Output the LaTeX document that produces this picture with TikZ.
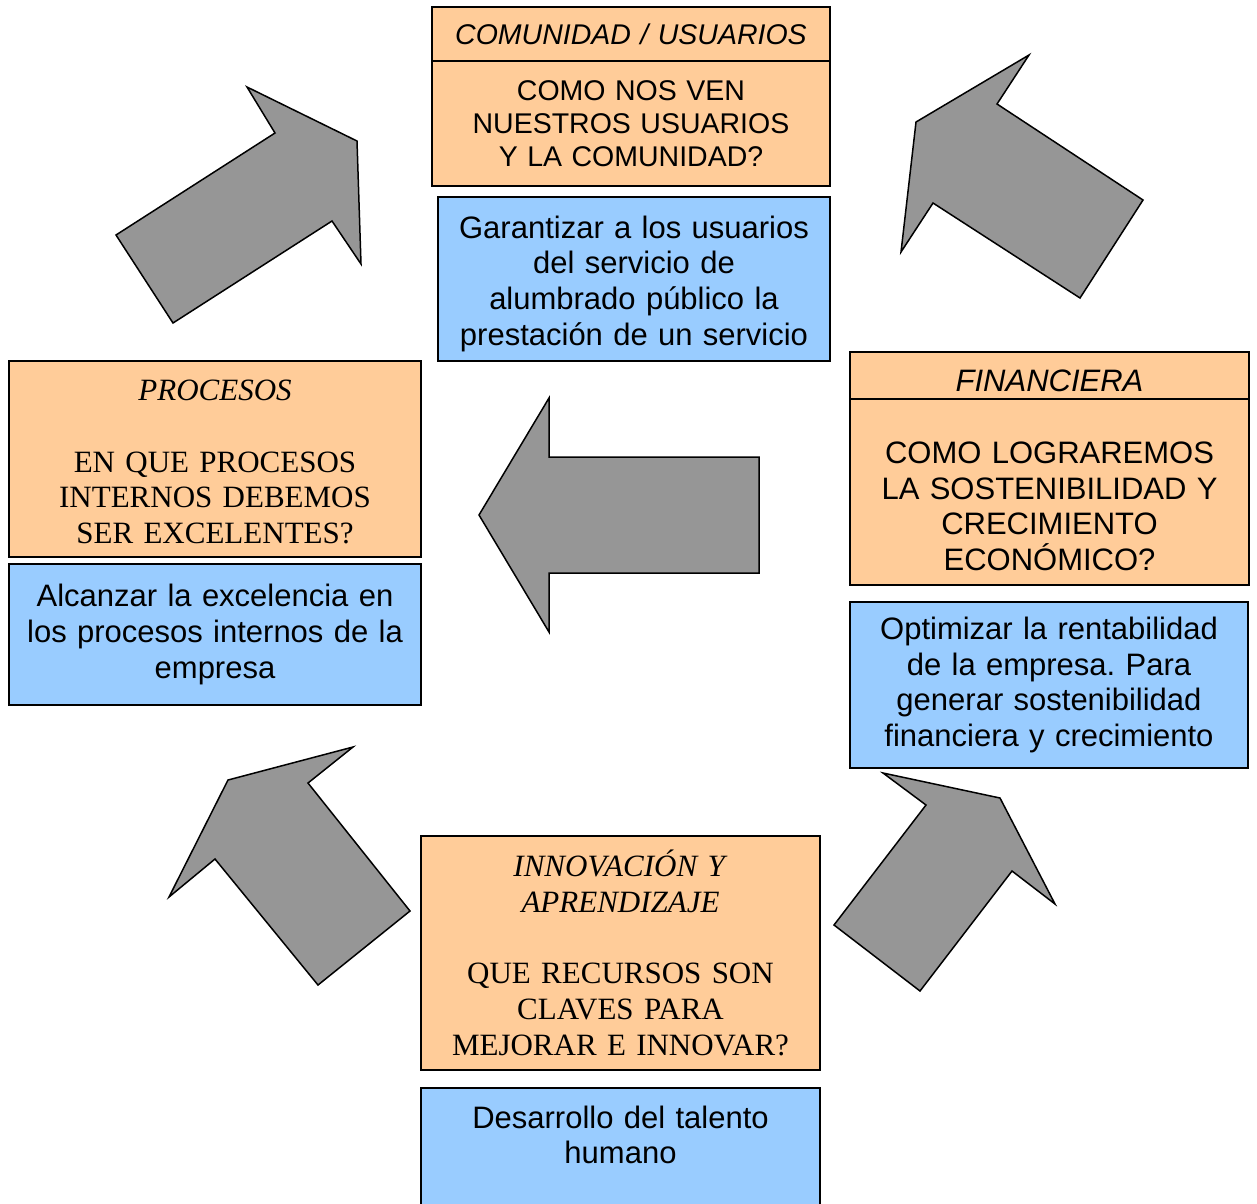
\documentclass[tikz,border=0pt]{standalone}
\usepackage{fontspec}
\setmainfont{Liberation Serif}
\newfontfamily\arialfont{Liberation Sans}
\frenchspacing
\usetikzlibrary{positioning}
\definecolor{peach}{HTML}{FFCC99}
\definecolor{skyblue}{HTML}{99CCFF}
\definecolor{arrowgray}{HTML}{969696}
\tikzstyle{orangebox} = [rectangle, draw=black, fill=peach, line width=1.5pt, outer sep=0pt, inner xsep=4pt, inner ysep=2pt, align=center]
\tikzstyle{bluebox} = [rectangle, draw=black, fill=skyblue, line width=1.5pt, outer sep=0pt, inner xsep=4pt, inner ysep=2pt, align=center]
\tikzstyle{bigarrow} = [draw=black, fill=arrowgray, line width=1.5pt, line join=miter]
\tikzstyle{sans} = [font=\arialfont\fontsize{31}{35.7}\selectfont]
\tikzstyle{sanssmall} = [font=\arialfont\fontsize{28.5}{32.8}\selectfont]
\tikzstyle{serif} = [font=\fontsize{31}{35.7}\selectfont]

\begin{document}
\begin{tikzpicture}[x=1pt, y=-1pt]
	\clip (0,0) rectangle (1257,1203);

	% arrows
	\filldraw [bigarrow] (116,235) -- (275,133) -- (247,87) -- (357,141) -- (361,264) -- (332,221) -- (173,323) -- cycle;
	\filldraw [bigarrow] (1143,200) -- (997,104) -- (1029,55) -- (916,122) -- (901,252) -- (933,203) -- (1080,298) -- cycle;
	\filldraw [bigarrow] (759,457) -- (549,457) -- (549,398) -- (479,515) -- (549,632) -- (549,573) -- (759,573) -- cycle;
	\filldraw [bigarrow] (410,911) -- (308,783) -- (353,747) -- (228,780) -- (169,897) -- (215,859) -- (318,985) -- cycle;
	\filldraw [bigarrow] (834,925) -- (926,805) -- (883,773) -- (1000,798) -- (1055,904) -- (1012,871) -- (920,991) -- cycle;

	% comunidad
	\node (comhead) [orangebox, sanssmall, anchor=north west, text width=390pt, minimum height=54pt] at (432,7) {\textit{COMUNIDAD / USUARIOS}};
	\node (combody) [orangebox, sanssmall, below=0pt of comhead, text width=390pt, minimum height=125pt] {COMO NOS VEN\\NUESTROS USUARIOS\\Y LA COMUNIDAD?};
	\node (comobj) [bluebox, sans, anchor=north west, text width=384pt, minimum height=164pt, text height=32pt] at (438,197) {Garantizar a los usuarios\\del servicio de\\alumbrado público la\\prestación de un servicio};

	% procesos
	\node (proc) [orangebox, serif, anchor=north west, text width=404pt, minimum height=196pt, text height=26.5pt] at (9,361) {\textit{PROCESOS}\\[35.7pt]EN QUE PROCESOS\\INTERNOS DEBEMOS\\SER EXCELENTES?};
	\node (procobj) [bluebox, sans, below=7pt of proc, text width=404pt, minimum height=141pt] {Alcanzar la excelencia en\\los procesos internos de la\\empresa};

	% financiera
	\node (finhead) [orangebox, sans, anchor=north west, text width=391pt, minimum height=47pt, text height=32pt] at (850,352) {\textit{FINANCIERA}};
	\node (finbody) [orangebox, sans, below=0pt of finhead, text width=391pt, minimum height=186pt, text height=50pt] {COMO LOGRAREMOS\\LA SOSTENIBILIDAD Y\\CRECIMIENTO\\ECONÓMICO?};
	\node (finobj) [bluebox, sans, anchor=north west, text width=390pt, minimum height=166pt] at (850,602) {Optimizar la rentabilidad\\de la empresa. Para\\generar sostenibilidad\\financiera y crecimiento};

	% innovacion
	\node (innov) [orangebox, serif, anchor=north west, text width=391pt, minimum height=234pt] at (421,836) {\textit{INNOVACIÓN Y}\\\textit{APRENDIZAJE}\\[35.7pt]QUE RECURSOS SON\\CLAVES PARA\\MEJORAR E INNOVAR?};
	\node (innovobj) [bluebox, sans, below=18pt of innov, text width=391pt, minimum height=164pt, text depth=106pt] {Desarrollo del talento\\humano};

\end{tikzpicture}
\end{document}
